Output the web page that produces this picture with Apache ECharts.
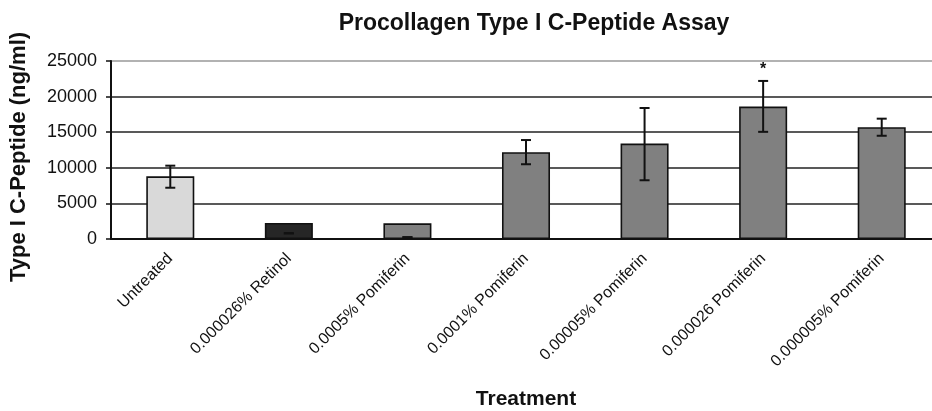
<!DOCTYPE html>
<html><head><meta charset="utf-8">
<script src="https://cdn.jsdelivr.net/npm/echarts@6/dist/echarts.min.js"></script>
<style>html,body{margin:0;padding:0;background:#fff;overflow:hidden;width:932px;height:411px}#c{width:941px;height:411px}</style>
</head><body><div id="c"></div>
<script>
const categories = ['Untreated','0.000026% Retinol','0.0005% Pomiferin','0.0001% Pomiferin','0.00005% Pomiferin','0.000026 Pomiferin','0.000005% Pomiferin'];
const values = [8800, 2250, 2200, 12200, 13400, 18600, 15700];
const errLow = [7200, 800, 250, 10500, 8250, 15050, 14500];
const errHigh = [10300, 800, 250, 13900, 18400, 22200, 16900];
const marks = ['', '', '', '', '', '*', ''];
const barColors = ['#d9d9d9', '#262626', '#808080', '#808080', '#808080', '#808080', '#808080'];
const yTicks = [0, 5000, 10000, 15000, 20000, 25000];

const chart = echarts.init(document.getElementById('c'));
const font = 'Liberation Sans, Arial, sans-serif';
chart.setOption({
  animation: false,
  title: { text: 'Procollagen Type I C-Peptide Assay', left: 529, top: 7, textAlign: 'center',
    textStyle: { fontFamily: font, fontSize: 23, fontWeight: 'bold', color: '#111' } },
  grid: { left: 111, right: 0, top: 61, bottom: 170, containLabel: false },
  graphic: [{
    type: 'text', x: 19, y: 157, rotation: Math.PI / 2,
    style: { text: 'Type I C-Peptide (ng/ml)', font: 'bold 22px ' + font, fill: '#111', textAlign: 'center', textVerticalAlign: 'middle' }
  }],
  xAxis: {
    type: 'category', data: categories,
    name: 'Treatment', nameLocation: 'middle', nameGap: 150,
    nameTextStyle: { fontFamily: font, fontSize: 21, fontWeight: 'bold', color: '#111', padding: [0, 0, 0, 0] },
    axisLine: { lineStyle: { color: '#111', width: 2 } },
    axisTick: { lineStyle: { color: '#111', width: 1.5 }, length: 5 },
    axisLabel: { rotate: 45, margin: 17, fontFamily: font, fontSize: 16, color: '#111', interval: 0 }
  },
  yAxis: {
    type: 'value', min: yTicks[0], max: yTicks[yTicks.length - 1], interval: 5000,
    axisLine: { show: true, lineStyle: { color: '#111', width: 2 } },
    axisTick: { show: true, inside: false, length: 5, lineStyle: { color: '#111', width: 1.5 } },
    axisLabel: { margin: 14, fontFamily: font, fontSize: 18, color: '#111', formatter: v => String(v) },
    splitLine: { lineStyle: { color: ['#222', '#222', '#222', '#222', '#222', '#999'], width: 1.6 } }
  },
  series: [
    {
      type: 'bar', barWidth: '40.5%',
      data: values.map((v, i) => ({ value: v, itemStyle: { color: barColors[i] } })),
      itemStyle: { borderColor: '#111', borderWidth: 1.6 },
      z: 2
    },
    {
      type: 'custom', z: 5,
      data: categories.map((c, i) => [i, errLow[i], errHigh[i]]),
      renderItem: function (params, api) {
        const i = api.value(0);
        const lo = api.coord([i, api.value(1)]);
        const hi = api.coord([i, api.value(2)]);
        const half = 5;
        const st = { stroke: '#111', lineWidth: 2 };
        const children = [
          { type: 'line', shape: { x1: lo[0], y1: lo[1], x2: hi[0], y2: hi[1] }, style: st },
          { type: 'line', shape: { x1: lo[0] - half, y1: lo[1], x2: lo[0] + half, y2: lo[1] }, style: st },
          { type: 'line', shape: { x1: hi[0] - half, y1: hi[1], x2: hi[0] + half, y2: hi[1] }, style: st }
        ];
        const m = marks[params.dataIndex];
        if (m) {
          children.push({ type: 'text', style: { text: m, x: hi[0], y: hi[1] - 3, textAlign: 'center', textVerticalAlign: 'bottom', font: 'bold 16px ' + font, fill: '#111' } });
        }
        return { type: 'group', children: children };
      }
    }
  ]
});
</script></body></html>
